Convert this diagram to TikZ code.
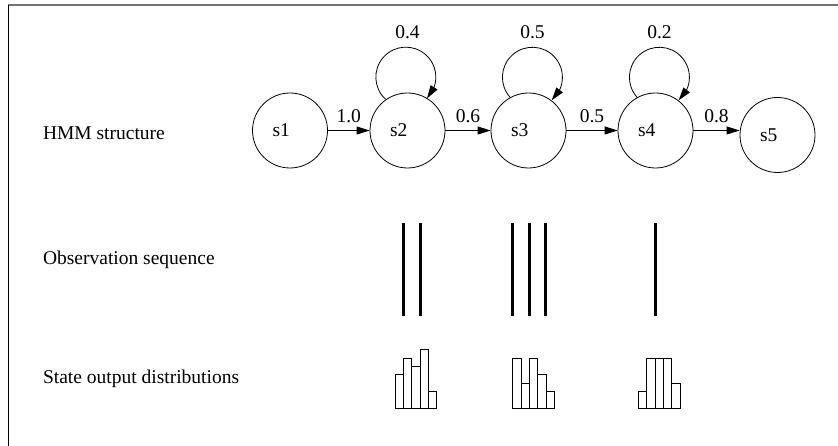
\documentclass[tikz,border=0pt]{standalone}
\usepackage{fontspec}
\setmainfont{Liberation Serif}
\usetikzlibrary{arrows.meta,bending,positioning}

\tikzset{
  every node/.style={font=\fontsize{19.5pt}{23pt}\selectfont},
  state/.style={circle,draw,line width=0.8pt,minimum size=75pt,inner sep=0pt,text width=35pt,align=left},
  arr/.style={line width=0.8pt,-{Triangle[length=13pt,width=8pt]}},
  selfloop/.style={line width=0.8pt,-{Triangle[length=13pt,width=8pt,flex]}},
  obs/.style={line width=3pt},
  hbar/.style={line width=0.8pt}
}

\begin{document}
\begin{tikzpicture}[x=1pt,y=1pt]

    \useasboundingbox (0,0) rectangle (838,446);

    % frame
    \draw[black!55,line width=1.2pt] (8,441) -- (838,441);
    \draw[line width=1pt] (8,0) -- (8,441);

    % row titles
    \node[anchor=base west] (title1) at (39.5,306.7) {HMM structure};
    \node[anchor=base west] (title2) at (39.5,181) {Observation sequence};
    \node[anchor=base west] (title3) at (39.5,62.7) {State output distributions};

    % states
    \node[state] (s1) at (290,315.5) {s1};
    \node[state] (s2) at (407.5,315.5) {s2};
    \node[state] (s3) at (528.5,315.5) {s3};
    \node[state] (s4) at (655.5,315.5) {s4};
    \node[state] (s5) at (777.5,311) {s5};

    % transitions
    \draw[arr] (s1) -- node[above=4pt] {1.0} (s2);
    \draw[arr] (s2) -- node[above=4pt] {0.6} (s3);
    \draw[arr] (s3) -- node[above=4pt] {0.5} (s4);
    \draw[arr] (s4.east) -- node[above=4pt] {0.8} (s4.east -| s5.west);

    % self loops
    \foreach \s/\a/\b/\c in {s2/125/228/-45, s3/119/222/-50, s4/119/222/-50}
      \draw[selfloop] (\s.\a) arc[start angle=\b, end angle=\c, radius=30];
    \node[above=50pt of s2] (p22) {0.4};
    \node[above=50pt of s3, xshift=4pt] (p33) {0.5};
    \node[above=50pt of s4, xshift=4pt] (p44) {0.2};

    % observations
    \foreach \x in {403.5,420,512.5,529,545.5,655}
      \draw[obs] (\x,130) -- (\x,222.7);

    % output histograms
    \foreach \hx/\hs in {395/{4,6,5,7,2}, 512.7/{6,3,6,4,2}, 638.3/{2,6,6,6,3}}
      \foreach \h [count=\i] in \hs
        \draw[hbar] ({\hx+(\i-1)*8.35},37.7) rectangle ++(8.35,{\h*8.35});

\end{tikzpicture}
\end{document}
